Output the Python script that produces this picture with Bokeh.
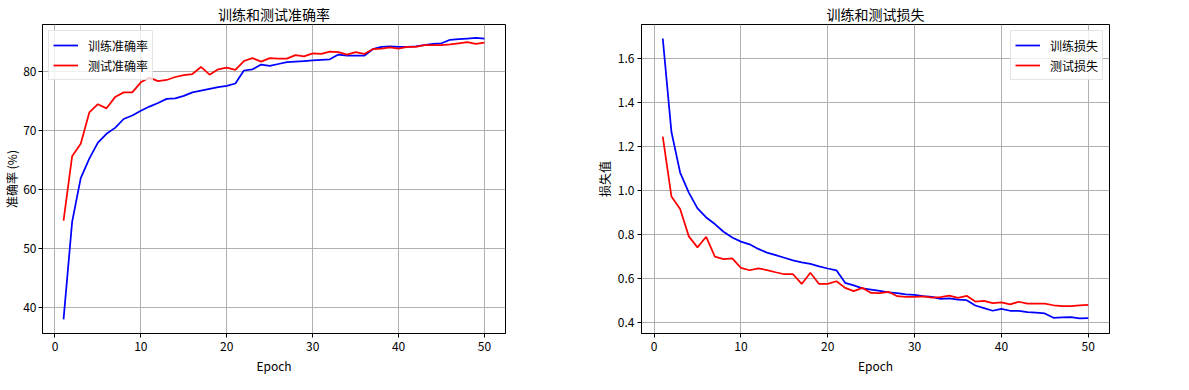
from bokeh.plotting import figure
from bokeh.layouts import row
from bokeh.models import Range1d, SingleIntervalTicker, NumeralTickFormatter, Legend, LegendItem
from bokeh.embed import file_html
from bokeh.resources import INLINE

epochs = list(range(1, 51))

train_acc = [38.0, 54.5, 61.9, 65.2, 67.9, 69.4, 70.4, 71.9, 72.5, 73.3,
             74.0, 74.6, 75.3, 75.4, 75.8, 76.4, 76.7, 77.0, 77.3, 77.5,
             77.9, 80.1, 80.3, 81.1, 80.9, 81.2, 81.5, 81.6, 81.7, 81.8,
             81.9, 82.0, 82.8, 82.6, 82.6, 82.6, 83.7, 84.1, 84.2, 84.1,
             84.1, 84.2, 84.4, 84.6, 84.7, 85.3, 85.4, 85.5, 85.6, 85.5]
test_acc = [54.7, 65.6, 67.7, 73.0, 74.4, 73.7, 75.6, 76.4, 76.4, 78.1,
            78.9, 78.3, 78.5, 79.0, 79.3, 79.5, 80.7, 79.4, 80.3, 80.6,
            80.2, 81.7, 82.2, 81.6, 82.2, 82.1, 82.1, 82.7, 82.5, 83.0,
            82.9, 83.3, 83.2, 82.8, 83.2, 82.9, 83.7, 83.8, 84.0, 83.8,
            84.1, 84.1, 84.4, 84.4, 84.4, 84.5, 84.7, 84.9, 84.6, 84.8]
train_loss = [1.690, 1.265, 1.081, 0.990, 0.918, 0.877, 0.847, 0.812, 0.786, 0.767,
              0.755, 0.734, 0.717, 0.706, 0.694, 0.682, 0.673, 0.666, 0.655, 0.645,
              0.637, 0.580, 0.568, 0.555, 0.549, 0.543, 0.537, 0.533, 0.528, 0.525,
              0.519, 0.516, 0.507, 0.509, 0.504, 0.501, 0.477, 0.465, 0.453, 0.462,
              0.453, 0.453, 0.447, 0.444, 0.441, 0.421, 0.423, 0.424, 0.418, 0.420]
test_loss = [1.244, 0.972, 0.915, 0.791, 0.741, 0.789, 0.699, 0.688, 0.691, 0.648,
             0.637, 0.646, 0.638, 0.628, 0.619, 0.619, 0.575, 0.626, 0.575, 0.575,
             0.587, 0.557, 0.542, 0.557, 0.534, 0.533, 0.539, 0.519, 0.516, 0.516,
             0.518, 0.513, 0.515, 0.522, 0.512, 0.521, 0.495, 0.498, 0.488, 0.491,
             0.482, 0.494, 0.485, 0.485, 0.485, 0.478, 0.474, 0.474, 0.477, 0.480]

titles = ["训练和测试准确率", "训练和测试损失"]
ylabels = ["准确率 (%)", "损失值"]
xlabel = "Epoch"
legend_acc = ["训练准确率", "测试准确率"]
legend_loss = ["训练损失", "测试损失"]

FONT = "Noto Sans CJK SC"


def make_fig(fw, left, right, title, ylabel, yrange, yinterval, fmt,
             ys, labels, loc, ylab_so, ylbl_so):
    p = figure(frame_width=fw, frame_height=309, output_backend="svg", toolbar_location=None,
               x_range=Range1d(-1.45, 52.45), y_range=Range1d(*yrange),
               min_border_left=left, min_border_right=right,
               min_border_top=24, min_border_bottom=41)
    p.title.text = title
    p.title.align = "center"
    p.title.text_font = FONT
    p.title.text_font_size = "14px"
    p.title.text_font_style = "normal"
    p.title.text_color = "black"
    p.title.standoff = 2
    p.outline_line_color = "black"
    p.outline_line_width = 1
    p.outline_line_alpha = 1
    p.xaxis.ticker = SingleIntervalTicker(interval=10)
    p.yaxis.ticker = SingleIntervalTicker(interval=yinterval)
    if fmt:
        p.yaxis.formatter = NumeralTickFormatter(format=fmt)
    for ax in (p.xaxis, p.yaxis):
        ax.axis_line_color = "black"
        ax.major_tick_line_color = "black"
        ax.major_tick_out = 4
        ax.major_tick_in = 0
        ax.minor_tick_line_color = None
        ax.major_label_text_font = FONT
        ax.major_label_text_font_size = "12px"
        ax.major_label_text_color = "black"
        ax.axis_label_text_font = FONT
        ax.axis_label_text_font_size = "12px"
        ax.axis_label_text_font_style = "normal"
        ax.axis_label_text_color = "black"
    p.xaxis.major_label_standoff = 4
    p.xaxis.axis_label_standoff = 3
    p.yaxis.major_label_standoff = ylab_so
    p.yaxis.axis_label_standoff = ylbl_so
    p.xaxis.axis_label = xlabel
    p.yaxis.axis_label = ylabel
    p.xgrid.grid_line_color = "#b0b0b0"
    p.ygrid.grid_line_color = "#b0b0b0"
    p.xgrid.grid_line_width = 1
    p.ygrid.grid_line_width = 1
    r1 = p.line(epochs, ys[0], line_color="blue", line_width=1.75)
    r2 = p.line(epochs, ys[1], line_color="red", line_width=1.75)
    leg = Legend(items=[LegendItem(label=labels[0], renderers=[r1]),
                        LegendItem(label=labels[1], renderers=[r2])],
                 location=loc)
    leg.label_text_font = FONT
    leg.label_text_font_size = "12px"
    leg.label_text_color = "black"
    leg.glyph_width = 25
    leg.glyph_height = 20
    leg.label_height = 20
    leg.label_standoff = 10
    leg.padding = 4
    leg.spacing = 0
    leg.margin = 6
    leg.border_line_color = "#cccccc"
    leg.border_line_width = 1
    leg.background_fill_alpha = 0.8
    p.add_layout(leg)
    return p


p1 = make_fig(463, 38, 87, titles[0], ylabels[0], (35.62, 87.88), 10, None,
              [train_acc, test_acc], legend_acc, "top_left", 2, 0)
p2 = make_fig(468, 45, 71, titles[1], ylabels[1], (0.3497, 1.7537), 0.2, "0.0",
              [train_loss, test_loss], legend_loss, "top_right", 3, 2)

layout = row(p1, p2)
open("out.html", "w").write(file_html(layout, INLINE))
